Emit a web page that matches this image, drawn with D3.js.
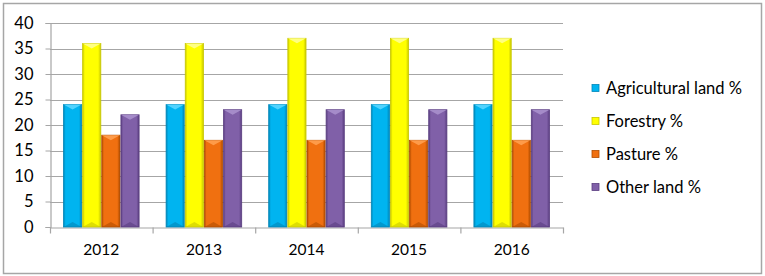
<!DOCTYPE html>
<html>
<head>
<meta charset="utf-8">
<script src="https://cdn.jsdelivr.net/npm/d3@7"></script>
<style>
  body { margin: 0; background: #fff; }
  svg text { font-family: "Lato", "Open Sans", sans-serif; fill: #000; }
</style>
</head>
<body>
<svg id="chart"></svg>
<script>
// data
const years = ["2012", "2013", "2014", "2015", "2016"];
const seriesNames = ["Agricultural land %", "Forestry %", "Pasture %", "Other land %"];
const agricultural = [24, 24, 24, 24, 24];
const forestry = [36, 36, 37, 37, 37];
const pasture = [18, 17, 17, 17, 17];
const otherLand = [22, 23, 23, 23, 23];
const yTicks = [0, 5, 10, 15, 20, 25, 30, 35, 40];

const seriesValues = [agricultural, forestry, pasture, otherLand];
const colors = [
  {mid: "#00B4F0", light: "#5AD6FF", dark: "#0086B8"},
  {mid: "#FFFF00", light: "#FFFF90", dark: "#C8C800"},
  {mid: "#F07010", light: "#FFA050", dark: "#B04C00"},
  {mid: "#8060A8", light: "#A890CC", dark: "#5A3E80"}
];

const width = 765, height = 276;
const margin = {top: 23, left: 50, right: 202, bottom: 49};

const svg = d3.select("#chart").attr("width", width).attr("height", height);

// outer frame
svg.append("rect")
  .attr("x", 3.5).attr("y", 3.5)
  .attr("width", width - 7).attr("height", height - 6)
  .attr("fill", "#fff").attr("stroke", "#A6A6A6").attr("stroke-width", 1.5);

const x0 = d3.scaleBand()
  .domain(years)
  .range([margin.left, width - margin.right])
  .paddingInner(0).paddingOuter(0);

const x1 = d3.scaleBand()
  .domain(d3.range(seriesNames.length))
  .range([13.5, x0.bandwidth() - 13.5])
  .paddingInner(0.05);

const y = d3.scaleLinear()
  .domain([0, 40])
  .range([height - margin.bottom, margin.top]);

// gradients for the bevelled bars
const defs = svg.append("defs");
colors.forEach((c, i) => {
  const g = defs.append("linearGradient").attr("id", "grad" + i)
    .attr("x1", "0%").attr("x2", "100%").attr("y1", "0%").attr("y2", "0%");
  g.append("stop").attr("offset", "0%").attr("stop-color", c.dark);
  g.append("stop").attr("offset", "12%").attr("stop-color", c.mid);
  g.append("stop").attr("offset", "85%").attr("stop-color", c.mid);
  g.append("stop").attr("offset", "100%").attr("stop-color", c.dark);
});

// gridlines
svg.append("g")
  .selectAll("line")
  .data(yTicks.filter(d => d > 0))
  .join("line")
  .attr("x1", margin.left).attr("x2", width - margin.right)
  .attr("y1", d => Math.round(y(d)) + 0.5).attr("y2", d => Math.round(y(d)) + 0.5)
  .attr("stroke", "#A6A6A6").attr("stroke-width", 1.2);

// y axis
const yAxis = svg.append("g")
  .attr("transform", `translate(${margin.left + 0.5},0)`)
  .call(d3.axisLeft(y).tickValues(yTicks).tickSize(5).tickPadding(12));
yAxis.select(".domain").attr("stroke", "#A6A6A6").attr("stroke-width", 1.2);
yAxis.selectAll(".tick line").attr("stroke", "#A6A6A6");
yAxis.selectAll("text").style("font-size", "16.5px");

// x axis
const xAxis = svg.append("g")
  .attr("transform", `translate(0,${Math.round(y(0)) + 0.5})`)
  .call(d3.axisBottom(x0).tickSize(0).tickPadding(16));
xAxis.select(".domain").attr("stroke", "#A6A6A6").attr("stroke-width", 1.2);
xAxis.selectAll("text").style("font-size", "15.5px");
xAxis.selectAll(".sep")
  .data(d3.range(years.length + 1))
  .join("line")
  .attr("x1", i => margin.left + i * x0.bandwidth() + 0.5)
  .attr("x2", i => margin.left + i * x0.bandwidth() + 0.5)
  .attr("y1", 0).attr("y2", 6)
  .attr("stroke", "#A6A6A6").attr("stroke-width", 1.2);

// bars
const groups = svg.append("g")
  .selectAll("g")
  .data(years)
  .join("g")
  .attr("transform", d => `translate(${x0(d)},0)`);

const bars = groups.selectAll("g")
  .data((d, yi) => seriesValues.map((vals, si) => ({si, value: vals[yi]})))
  .join("g");

const bw = x1.bandwidth();
const bev = 5;

bars.append("rect")
  .attr("x", d => x1(d.si))
  .attr("y", d => y(d.value))
  .attr("width", bw)
  .attr("height", d => y(0) - y(d.value))
  .attr("fill", d => `url(#grad${d.si})`)
  .attr("stroke", d => colors[d.si].dark)
  .attr("stroke-width", 0.8);

// top bevel
bars.append("path")
  .attr("d", d => {
    const x = x1(d.si), t = y(d.value);
    return `M${x},${t}L${x + bw},${t}L${x + bw / 2},${t + bev}Z`;
  })
  .attr("fill", d => colors[d.si].light)
  .attr("opacity", 0.9);

// bottom bevel
bars.append("path")
  .attr("d", d => {
    const x = x1(d.si), b = y(0);
    return `M${x},${b}L${x + bw},${b}L${x + bw / 2},${b - bev}Z`;
  })
  .attr("fill", d => colors[d.si].dark)
  .attr("opacity", 0.6);

// legend
const legend = svg.append("g").attr("transform", "translate(592,88)");
const items = legend.selectAll("g")
  .data(seriesNames)
  .join("g")
  .attr("transform", (d, i) => `translate(0,${i * 33})`);

items.append("rect")
  .attr("x", 0).attr("y", -3.5)
  .attr("width", 7).attr("height", 7)
  .attr("fill", (d, i) => colors[i].mid)
  .attr("stroke", (d, i) => colors[i].dark)
  .attr("stroke-width", 0.8);

items.append("text")
  .attr("x", 14).attr("y", 0)
  .attr("dy", "0.35em")
  .style("font-size", "16.5px")
  .text(d => d);
</script>
</body>
</html>
